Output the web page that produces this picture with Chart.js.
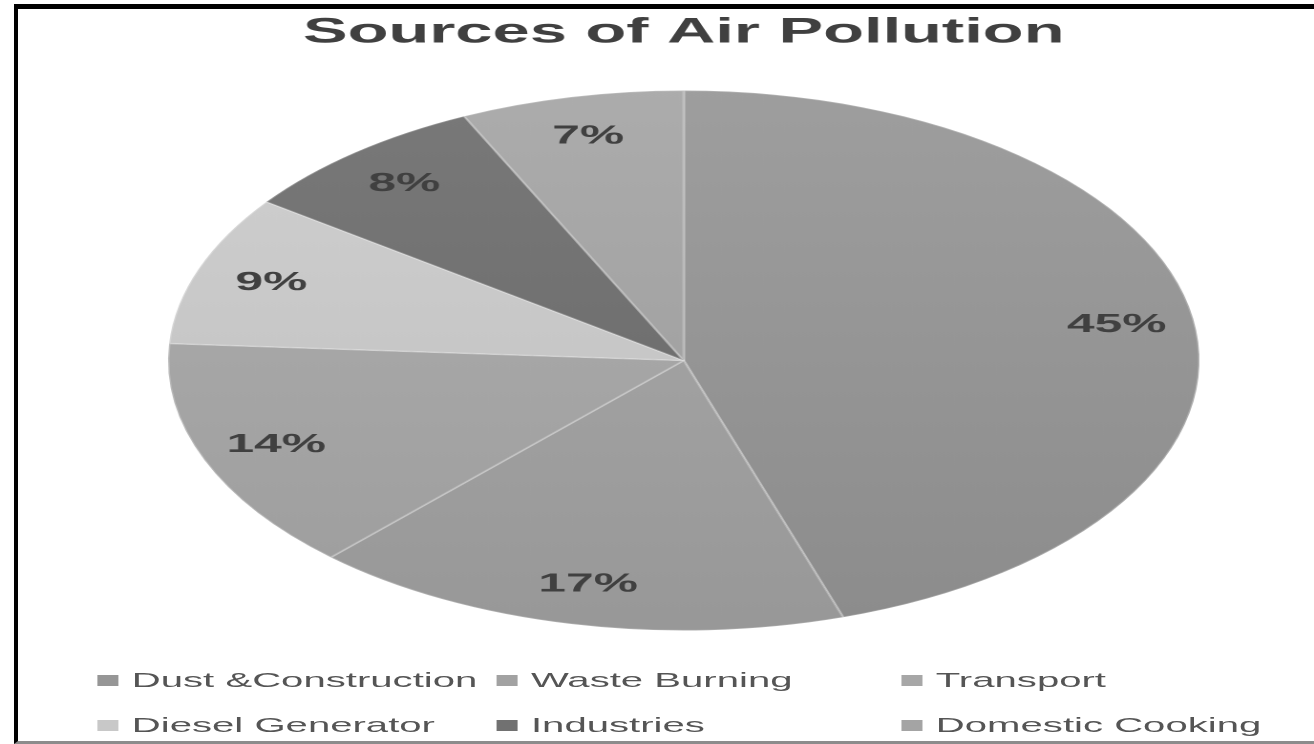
<!DOCTYPE html>
<html lang="en">
<head>
<meta charset="utf-8">
<title>Sources of Air Pollution</title>
<script src="https://cdn.jsdelivr.net/npm/chart.js@4.4.1/dist/chart.umd.min.js"></script>
<style>
    html, body { margin: 0; padding: 0; background: #fff; overflow: hidden; }
    #quadro { position: absolute; left: 0; top: 0; width: 1314px; height: 744px; background: #fff; }
    #moldura {
        position: absolute; left: 14px; top: 4px; width: 1310px; height: 732px;
        border-left: 4px solid #000; border-top: 5px solid #000; border-bottom: 3px solid #8c8c8c;
    }
    /* a imagem original está esticada na horizontal */
    #esticado { position: absolute; left: 0; top: 0; width: 688px; height: 744px; transform: scaleX(1.9099); transform-origin: 0 0; }
    #legenda { position: absolute; left: 0; top: 0; width: 688px; height: 744px; }
    .item-legenda {
        position: absolute; height: 24px; display: flex; align-items: center; white-space: nowrap;
        font-family: "Liberation Sans", Arial, sans-serif; font-size: 21px; color: #555;
    }
    .marcador { width: 11px; height: 11px; margin-right: 7px; }
</style>
</head>
<body>
<div id="quadro">
    <div id="esticado">
        <canvas id="graficoPoluicao" width="688" height="744"></canvas>
        <div id="legenda"></div>
    </div>
    <div id="moldura"></div>
</div>
<script>
const tituloGrafico = 'Sources of Air Pollution';
const categorias = ['Dust &Construction', 'Waste Burning', 'Transport', 'Diesel Generator', 'Industries', 'Domestic Cooking'];
const percentuais = [45, 17, 14, 9, 8, 7];
const coresFatias = ['#969696', '#a2a2a2', '#a7a7a7', '#c8c8c8', '#717171', '#a4a4a4'];

// posição das colunas e linhas da legenda (3 colunas, 2 linhas)
const colunasLegenda = [51, 260, 472];
const linhasLegenda = [668, 713];

function ajustarTom(hex, delta) {
    const v = Math.max(0, Math.min(255, parseInt(hex.slice(1, 3), 16) + delta));
    return `rgb(${v}, ${v}, ${v})`;
}

// degradê vertical parecido com o do Excel
function corComDegrade(contexto) {
    const cor = coresFatias[contexto.dataIndex];
    const area = contexto.chart.chartArea;
    if (!area) return cor;
    const cy = (area.top + area.bottom) / 2;
    const grad = contexto.chart.ctx.createLinearGradient(0, cy - 270, 0, cy + 270);
    grad.addColorStop(0, ajustarTom(cor, 8));
    grad.addColorStop(1, ajustarTom(cor, -10));
    return grad;
}

const rotulosPct = {
    id: 'rotulosPct',
    afterDatasetsDraw(chart) {
        const ctx = chart.ctx;
        const meta = chart.getDatasetMeta(0);
        ctx.save();
        ctx.font = 'bold 26px "Liberation Sans", Arial, sans-serif';
        ctx.fillStyle = '#404040';
        ctx.textAlign = 'center';
        ctx.textBaseline = 'middle';
        meta.data.forEach((arco, i) => {
            const p = arco.getProps(['x', 'y', 'startAngle', 'endAngle', 'outerRadius'], true);
            const meio = (p.startAngle + p.endAngle) / 2;
            const r = p.outerRadius * 0.85;
            ctx.fillText(percentuais[i] + '%', p.x + Math.cos(meio) * r, p.y + Math.sin(meio) * r);
        });
        ctx.restore();
    }
};

const ctx = document.getElementById('graficoPoluicao').getContext('2d');
const graficoPoluicao = new Chart(ctx, {
    type: 'pie',
    data: {
        labels: categorias,
        datasets: [{
            data: percentuais,
            backgroundColor: corComDegrade,
            borderColor: 'rgba(255, 255, 255, 0.22)',
            borderWidth: 1.5,
            radius: 270
        }]
    },
    options: {
        responsive: false,
        devicePixelRatio: 2,
        animation: false,
        layout: { padding: { left: 30, right: 2, top: 0, bottom: 84 } },
        plugins: {
            legend: { display: false },
            tooltip: { enabled: false },
            title: {
                display: true,
                text: tituloGrafico,
                color: '#404040',
                font: { family: '"Liberation Sans", Arial, sans-serif', size: 35, weight: 'bold' },
                padding: { top: 12, bottom: 7 }
            }
        }
    },
    plugins: [rotulosPct]
});

// legenda em colunas, montada a partir dos mesmos arrays
const legenda = document.getElementById('legenda');
categorias.forEach((nome, i) => {
    const item = document.createElement('div');
    item.className = 'item-legenda';
    item.style.left = colunasLegenda[i % 3] + 'px';
    item.style.top = linhasLegenda[Math.floor(i / 3)] + 'px';
    item.innerHTML = `<span class="marcador" style="background:${coresFatias[i]}"></span><span>${nome}</span>`;
    legenda.appendChild(item);
});
</script>
</body>
</html>
